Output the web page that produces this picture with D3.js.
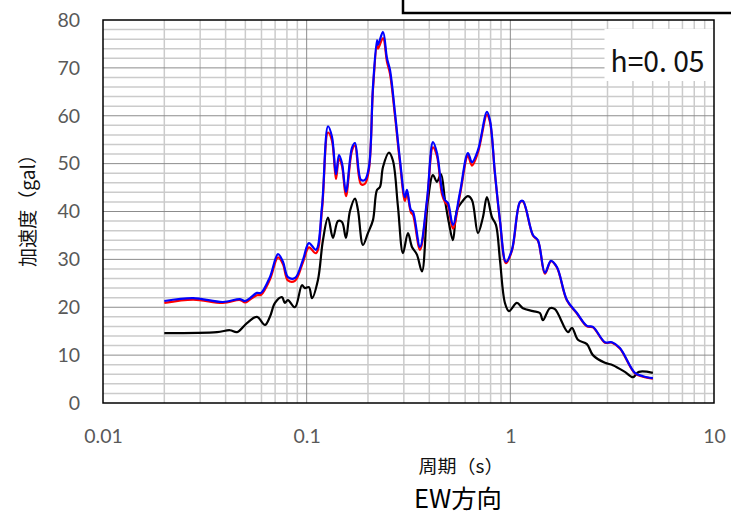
<!DOCTYPE html>
<html>
<head>
<meta charset="utf-8">
<script src="https://cdn.jsdelivr.net/npm/d3@7"></script>
<style>
  body { margin: 0; background: #fff; }
  svg { display: block; }
</style>
</head>
<body>
<div id="chart"></div>
<script>
/** Chart data */
const blackPeriods = [0.02, 0.0363, 0.042, 0.0455, 0.0509, 0.057, 0.0624, 0.066, 0.0699, 0.0756,
  0.0782, 0.0809, 0.0876, 0.0948, 0.0981, 0.1026, 0.1062, 0.1136, 0.1202, 0.1273,
  0.1346, 0.1425, 0.1491, 0.1559, 0.1632, 0.1727, 0.1786, 0.189, 0.1999, 0.2116,
  0.2214, 0.229, 0.237, 0.2535, 0.2653, 0.2807, 0.2971, 0.3143, 0.3289, 0.3479,
  0.3681, 0.394, 0.4169, 0.4363, 0.4564, 0.4775, 0.4995, 0.5226, 0.5469, 0.5787,
  0.6192, 0.6479, 0.6934, 0.7337, 0.7675, 0.8124, 0.85, 0.8892, 0.9408, 0.9842,
  1.077, 1.153, 1.291, 1.397, 1.445, 1.564, 1.656, 1.918, 2.007, 2.147,
  2.377, 2.544, 2.914, 3.189, 3.652, 3.999, 4.279, 5.01];
const blackValues = [14.6, 14.8, 15.2, 14.8, 16.7, 18.0, 16.3, 18.0, 20.9, 22.1,
  20.9, 21.5, 20.0, 24.6, 24.0, 24.2, 21.9, 25.7, 34.0, 38.7,
  34.5, 38.0, 37.8, 34.5, 40.1, 42.7, 40.3, 33.0, 35.5, 38.2,
  44.5, 45.1, 49.3, 52.3, 50.6, 41.0, 31.3, 35.5, 32.6, 31.0,
  27.5, 42.4, 47.6, 46.2, 47.8, 42.4, 37.6, 34.0, 40.3, 42.0,
  43.2, 42.4, 35.5, 38.8, 43.0, 38.8, 37.2, 29.9, 20.9, 19.2,
  20.9, 19.8, 19.2, 18.8, 17.3, 19.8, 19.6, 14.8, 15.7, 13.2,
  12.3, 10.0, 8.4, 7.9, 6.5, 5.4, 6.5, 6.3];

const colorPeriods = [0.02, 0.0277, 0.0388, 0.0471, 0.0498, 0.0527, 0.057, 0.0597, 0.066, 0.0723,
  0.0765, 0.0809, 0.0876, 0.0959, 0.1026, 0.1111, 0.1189, 0.1273, 0.1331, 0.1393,
  0.1441, 0.1491, 0.1559, 0.1669, 0.1727, 0.1848, 0.1933, 0.2022, 0.2116, 0.2214,
  0.2239, 0.237, 0.2479, 0.2564, 0.2714, 0.2871, 0.3038, 0.3107, 0.3251, 0.3326,
  0.36, 0.3897, 0.4169, 0.4363, 0.4616, 0.4775, 0.494, 0.5226, 0.5655, 0.6192,
  0.6479, 0.6934, 0.7675, 0.7941, 0.8404, 0.8892, 0.9515, 1.018, 1.115, 1.153,
  1.291, 1.366, 1.479, 1.582, 1.693, 1.896, 2.123, 2.377, 2.544, 2.914,
  3.154, 3.451, 4.089, 4.477, 5.01];
const blueValues = [21.3, 21.9, 21.1, 21.7, 21.3, 21.9, 23.0, 23.0, 26.3, 31.1,
  29.5, 26.3, 26.1, 29.9, 33.4, 32.0, 41.0, 57.8, 55.6, 47.8,
  51.8, 50.1, 44.1, 53.3, 54.3, 46.6, 46.6, 49.3, 66.0, 75.8,
  74.8, 77.5, 72.0, 69.6, 60.6, 50.8, 43.0, 44.5, 40.3, 40.0,
  32.6, 42.4, 54.5, 52.2, 44.5, 42.4, 41.8, 37.2, 43.9, 52.2,
  50.3, 52.8, 60.8, 59.1, 48.0, 38.2, 29.5, 32.0, 42.0, 42.2,
  35.1, 34.0, 27.2, 29.7, 28.4, 21.5, 18.8, 16.1, 15.9, 12.7,
  12.7, 11.5, 6.3, 5.6, 5.2];
const redValues = [20.9, 21.6, 20.9, 21.5, 21.0, 21.6, 22.5, 22.6, 25.8, 30.4,
  29.0, 25.6, 25.5, 29.4, 32.5, 31.3, 40.3, 56.5, 54.8, 46.8,
  51.0, 49.5, 43.2, 52.7, 53.8, 45.7, 45.8, 48.8, 65.5, 74.8,
  74.0, 76.2, 71.3, 68.8, 60.0, 50.2, 42.2, 44.0, 39.8, 39.3,
  32.0, 41.9, 53.4, 51.6, 43.6, 42.0, 41.2, 36.4, 43.4, 51.6,
  49.6, 52.3, 60.2, 58.7, 47.8, 38.0, 29.2, 31.8, 41.9, 42.1,
  35.0, 33.9, 27.0, 29.6, 28.3, 21.4, 18.7, 16.0, 15.8, 12.6,
  12.6, 11.4, 6.2, 5.5, 5.1];

const xTicks = [0.01, 0.1, 1, 10];
const xTickLabels = ["0.01", "0.1", "1", "10"];
const yTicks = [0, 10, 20, 30, 40, 50, 60, 70, 80];

const W = 731, H = 514;
const margin = { top: 20, right: 17, bottom: 111, left: 103 };
const innerW = W - margin.left - margin.right;
const innerH = H - margin.top - margin.bottom;

const svg = d3.select("#chart").append("svg")
  .attr("width", W)
  .attr("height", H);

const x = d3.scaleLog().domain([0.01, 10]).range([0, innerW]);
const y = d3.scaleLinear().domain([0, 80]).range([innerH, 0]);

const plot = svg.append("g")
  .attr("transform", "translate(" + margin.left + "," + margin.top + ")");

// minor grid: every 2 gal, and 2..9 inside each decade
const yMinor = d3.range(2, 80, 2).filter(v => v % 10 !== 0);
const xMinor = [];
[0.01, 0.1, 1].forEach(d => { for (let k = 2; k <= 9; k++) xMinor.push(d * k); });

plot.append("g").selectAll("line")
  .data(yMinor).enter().append("line")
  .attr("x1", 0).attr("x2", innerW)
  .attr("y1", d => y(d)).attr("y2", d => y(d))
  .attr("stroke", "#cbcbcb").attr("stroke-width", 1.5);

plot.append("g").selectAll("line")
  .data(xMinor).enter().append("line")
  .attr("x1", d => x(d)).attr("x2", d => x(d))
  .attr("y1", 0).attr("y2", innerH)
  .attr("stroke", "#cbcbcb").attr("stroke-width", 1.5);

// major grid
plot.append("g").selectAll("line")
  .data(yTicks.slice(1, -1)).enter().append("line")
  .attr("x1", 0).attr("x2", innerW)
  .attr("y1", d => y(d)).attr("y2", d => y(d))
  .attr("stroke", "#8c8c8c").attr("stroke-width", 1);

plot.append("g").selectAll("line")
  .data([0.1, 1]).enter().append("line")
  .attr("x1", d => x(d)).attr("x2", d => x(d))
  .attr("y1", 0).attr("y2", innerH)
  .attr("stroke", "#8c8c8c").attr("stroke-width", 1);

// h=0.05 box (covers the grid)
plot.append("rect")
  .attr("x", x(2.9)).attr("y", 9)
  .attr("width", 112).attr("height", 52)
  .attr("fill", "#fff");
plot.append("text")
  .attr("x", x(2.9) + 6).attr("y", 52)
  .attr("font-family", "'Noto Sans CJK JP', sans-serif")
  .attr("font-size", 29)
  .attr("fill", "#111")
  .attr("textLength", 94)
  .attr("lengthAdjust", "spacingAndGlyphs")
  .text("h=0. 05");

// curves
const line = d3.line()
  .x(d => x(d[0]))
  .y(d => y(d[1]))
  .curve(d3.curveCatmullRom.alpha(0.5));

const series = [
  { periods: blackPeriods, values: blackValues, color: "#000000" },
  { periods: colorPeriods, values: redValues, color: "#ff0000" },
  { periods: colorPeriods, values: blueValues, color: "#0000ff" }
];

plot.selectAll("path.series")
  .data(series).enter().append("path")
  .attr("class", "series")
  .attr("fill", "none")
  .attr("stroke", d => d.color)
  .attr("stroke-width", 2.2)
  .attr("stroke-linejoin", "round")
  .attr("d", d => line(d.periods.map((p, i) => [p, d.values[i]])));

// plot border
plot.append("rect")
  .attr("x", 0).attr("y", 0)
  .attr("width", innerW).attr("height", innerH)
  .attr("fill", "none")
  .attr("stroke", "#000")
  .attr("stroke-width", 1.5);

// axes
const yAxis = d3.axisLeft(y).tickValues(yTicks).tickSize(0).tickPadding(23);
const xAxis = d3.axisBottom(x).tickValues(xTicks).tickSize(0).tickPadding(26)
  .tickFormat((d, i) => xTickLabels[i]);

const gy = plot.append("g").call(yAxis);
const gx = plot.append("g").attr("transform", "translate(0," + innerH + ")").call(xAxis);
[gx, gy].forEach(g => {
  g.select(".domain").remove();
  g.selectAll("text")
    .attr("font-family", "Lato, 'Noto Sans', sans-serif")
    .attr("font-size", 19.5)
    .attr("fill", "#595959");
});

// axis titles
svg.append("text")
  .attr("transform", "translate(35,206) rotate(-90)")
  .attr("text-anchor", "middle")
  .attr("font-family", "'Noto Sans CJK JP', sans-serif")
  .attr("font-size", 19)
  .attr("fill", "#111")
  .attr("textLength", 122)
  .attr("lengthAdjust", "spacingAndGlyphs")
  .text("加速度（gal）");

svg.append("text")
  .attr("x", 461).attr("y", 473)
  .attr("text-anchor", "middle")
  .attr("font-family", "'Noto Sans CJK JP', sans-serif")
  .attr("font-size", 18)
  .attr("fill", "#111")
  .attr("textLength", 85)
  .attr("lengthAdjust", "spacingAndGlyphs")
  .text("周期（s）");

svg.append("text")
  .attr("x", 458).attr("y", 508)
  .attr("text-anchor", "middle")
  .attr("font-family", "'Noto Sans CJK JP', sans-serif")
  .attr("font-size", 25)
  .attr("fill", "#000")
  .attr("textLength", 88)
  .attr("lengthAdjust", "spacingAndGlyphs")
  .text("EW方向");

// caption box cut off at the top edge
svg.append("rect")
  .attr("x", 403).attr("y", -10)
  .attr("width", 340).attr("height", 23)
  .attr("fill", "#fff")
  .attr("stroke", "#000")
  .attr("stroke-width", 2.5);
</script>
</body>
</html>
